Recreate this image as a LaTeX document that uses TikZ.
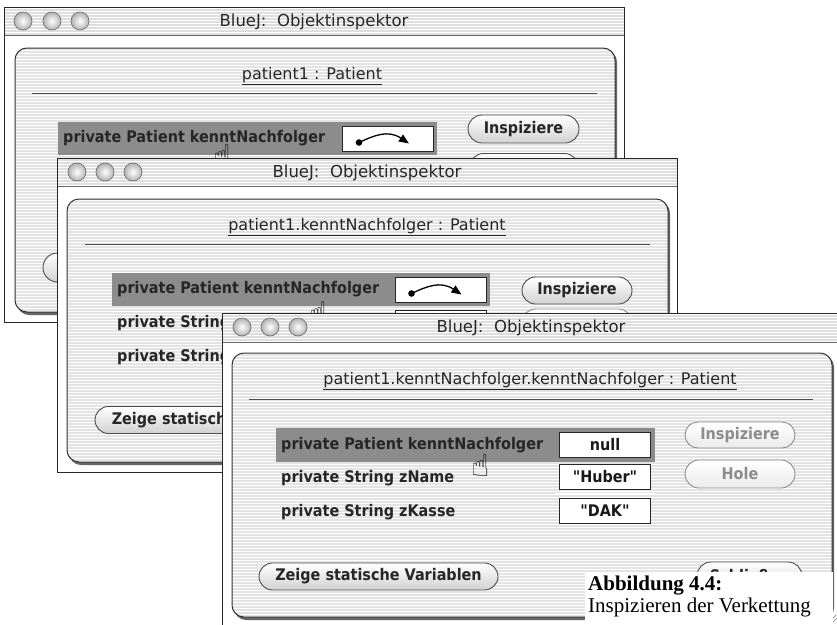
\documentclass[tikz,border=0pt]{standalone}
\usepackage{fontspec}
\setmainfont{DejaVu Sans}
\newfontfamily\uifont[FakeStretch=0.9]{DejaVu Sans}
\newfontfamily\capfont{Liberation Serif}
\usetikzlibrary{shapes.misc,arrows.meta,patterns}

\tikzset{
  winframe/.style={draw=black!85, line width=0.9pt, fill=white},
  titlebar/.style={fill=black!13},
  titleline/.style={draw=black!60, line width=0.8pt},
  stripes/.style={pattern=horizontal lines, pattern color=white},
  panelshadow/.style={fill=black!60, rounded corners=12pt},
  panelfill/.style={fill=black!11, rounded corners=12pt},
  panelrim/.style={draw=black!80, line width=1pt, rounded corners=12pt},
  lamp/.style={circle, minimum size=18pt, inner sep=0pt, draw=black!55, line width=0.7pt,
    inner color=white, outer color=black!30},
  wintitle/.style={font=\fontsize{16.5}{18}\selectfont, text=black!85, inner sep=0pt},
  heading/.style={font=\fontsize{16}{18}\selectfont, text=black!85, inner sep=0pt},
  rule/.style={draw=black!70, line width=1pt},
  rowsel/.style={fill=black!45},
  field/.style={font=\uifont\bfseries\fontsize{16}{18}\selectfont, text=black!85,
    anchor=west, inner sep=0pt},
  valbox/.style={draw=black!85, line width=0.9pt, fill=white, inner sep=0pt,
    minimum width=91pt, minimum height=25pt,
    font=\uifont\bfseries\fontsize{16}{18}\selectfont, text=black!90},
  aquabtn/.style={rounded rectangle, draw=black!70, line width=0.9pt,
    top color=white, bottom color=black!18, inner sep=0pt,
    font=\uifont\bfseries\fontsize{16}{18}\selectfont, text=black!85},
  greybtn/.style={aquabtn, draw=black!45, text=black!45, bottom color=black!8},
  cursor/.style={font=\fontsize{30}{30}\selectfont, inner sep=0pt, text=black},
  refarrow/.pic={
    \fill[black] (-29,4) circle (3.3pt);
    \draw[black, line width=1.3pt, -{Triangle[length=10pt,width=8pt]}]
      (-29,4) .. controls (-14,-3) and (0,-9) .. (21,5);
  }
}

\begin{document}
\begin{tikzpicture}[x=1pt,y=-1pt]
\useasboundingbox (0,0) rectangle (837,624);
\clip (0,0) rectangle (837,624);
\fill[white] (0,0) rectangle (837,624);

% ---------------- first inspector window ----------------
\draw[winframe] (4,7) rectangle (624,322);
\fill[titlebar] (4,7) rectangle (624,35);
\fill[stripes] (4,7) rectangle (624,35);
\draw[titleline] (4,35) -- (624,35);
\draw[black!85, line width=0.9pt] (4,7) rectangle (624,322);
\node[lamp] (w1l1) at (23,21) {};
\node[lamp] (w1l2) at (52,21) {};
\node[lamp] (w1l3) at (80,21) {};
\node[wintitle] (w1name) at (314,22) {BlueJ:\ \ Objektinspektor};
\fill[panelshadow] (17,50) rectangle (617,315);
\fill[panelfill] (15,48) rectangle (615,312);
\fill[stripes, rounded corners=12pt] (15,48) rectangle (615,312);
\draw[panelrim] (15,48) rectangle (615,312);
\node[heading] (w1head) at (312,76) {\underline{patient1 : Patient}};
\draw[rule] (32,93) -- (597,93);
\fill[rowsel] (58,122) rectangle (437,155);
\node[field] (w1f1) at (63,138.5) {private Patient kenntNachfolger};
\node[valbox] (w1v1) at (388,138.5) {};
\pic at (w1v1.center) {refarrow};
\node[aquabtn, minimum width=111pt, minimum height=28pt] (w1insp) at (523.5,129) {Inspiziere};
\node[aquabtn, minimum width=108pt, minimum height=27pt] (w1hole) at (524,167) {Hole};
\node[aquabtn, minimum width=240pt, minimum height=29pt] (w1zeige) at (163,267.5) {Zeige statische Variablen};
\node[cursor] (w1hand) at (223,156) {☝};

% ---------------- second inspector window ----------------
\draw[winframe] (57,158) rectangle (677,472);
\fill[titlebar] (57,158) rectangle (677,186);
\fill[stripes] (57,158) rectangle (677,186);
\draw[titleline] (57,186) -- (677,186);
\draw[black!85, line width=0.9pt] (57,158) rectangle (677,472);
\node[lamp] (w2l1) at (77,172) {};
\node[lamp] (w2l2) at (105,172) {};
\node[lamp] (w2l3) at (133,172) {};
\node[wintitle] (w2name) at (367,173) {BlueJ:\ \ Objektinspektor};
\fill[panelshadow] (69,201) rectangle (670,465);
\fill[panelfill] (67,199) rectangle (668,462);
\fill[stripes, rounded corners=12pt] (67,199) rectangle (668,462);
\draw[panelrim] (67,199) rectangle (668,462);
\node[heading] (w2head) at (367,227) {\underline{patient1.kenntNachfolger : Patient}};
\draw[rule] (85,244) -- (650,244);
\fill[rowsel] (112,273) rectangle (490,306);
\node[field] (w2f1) at (117,289.5) {private Patient kenntNachfolger};
\node[field] (w2f2) at (117,323) {private String zName};
\node[field] (w2f3) at (117,357) {private String zKasse};
\node[valbox] (w2v1) at (440.5,289.5) {};
\pic at (w2v1.center) {refarrow};
\node[valbox] (w2v2) at (440.5,323) {};
\node[valbox] (w2v3) at (440.5,357) {};
\node[aquabtn, minimum width=110pt, minimum height=27pt] (w2insp) at (577,290.5) {Inspiziere};
\node[greybtn, minimum width=110pt, minimum height=27pt] (w2hole) at (577,322.5) {Hole};
\node[aquabtn, minimum width=240pt, minimum height=27pt] (w2zeige) at (215,420) {Zeige statische Variablen};
\node[cursor] (w2hand) at (319,313) {☝};

% ---------------- third inspector window ----------------
\draw[winframe] (222,313) rectangle (850,640);
\fill[titlebar] (222,313) rectangle (850,342);
\fill[stripes] (222,313) rectangle (850,342);
\draw[titleline] (222,342) -- (850,342);
\draw[black!85, line width=0.9pt] (222,313) rectangle (850,640);
\node[lamp] (w3l1) at (242,327) {};
\node[lamp] (w3l2) at (270,327) {};
\node[lamp] (w3l3) at (298,327) {};
\node[wintitle] (w3name) at (531,328) {BlueJ:\ \ Objektinspektor};
\fill[panelshadow] (234,355) rectangle (834,620);
\fill[panelfill] (232,353) rectangle (832,617);
\fill[stripes, rounded corners=12pt] (232,353) rectangle (832,617);
\draw[panelrim] (232,353) rectangle (832,617);
\node[heading] (w3head) at (530,381) {\underline{patient1.kenntNachfolger.kenntNachfolger : Patient}};
\draw[rule] (249,399) -- (813,399);
\fill[rowsel] (276,428) rectangle (655,462);
\node[field] (w3f1) at (281,445) {private Patient kenntNachfolger};
\node[field] (w3f2) at (281,478) {private String zName};
\node[field] (w3f3) at (281,512) {private String zKasse};
\node[valbox] (w3v1) at (605,445) {null};
\node[valbox] (w3v2) at (605,477) {"Huber"};
\node[valbox] (w3v3) at (605,511) {"DAK"};
\draw[white, line width=1pt] (555,493) -- (655,493);
\draw[white, line width=1pt] (555,527) -- (655,527);
\node[greybtn, minimum width=110pt, minimum height=26pt] (w3insp) at (740,435) {Inspiziere};
\node[greybtn, minimum width=110pt, minimum height=28pt] (w3hole) at (740,474) {Hole};
\node[aquabtn, minimum width=239pt, minimum height=27pt] (w3zeige) at (378.5,576.5) {Zeige statische Variablen};
\node[aquabtn, minimum width=105pt, minimum height=28pt] (w3close) at (749.5,576) {Schließen};
\node[cursor] (w3hand) at (481,466) {☝};

% resize grip in the corner
\draw[black!45, line width=0.7pt] (828,623) -- (836,615);
\draw[black!45, line width=0.7pt] (832,623) -- (837,618);

% ---------------- caption ----------------
\fill[white] (585,572) rectangle (833,624);
\node[font=\capfont\bfseries\fontsize{21}{22}\selectfont, anchor=base west, inner sep=0pt]
  (cap1) at (588,590) {Abbildung 4.4:};
\node[font=\capfont\fontsize{21}{22}\selectfont, anchor=base west, inner sep=0pt]
  (cap2) at (588,612) {Inspizieren der Verkettung};
\end{tikzpicture}
\end{document}
